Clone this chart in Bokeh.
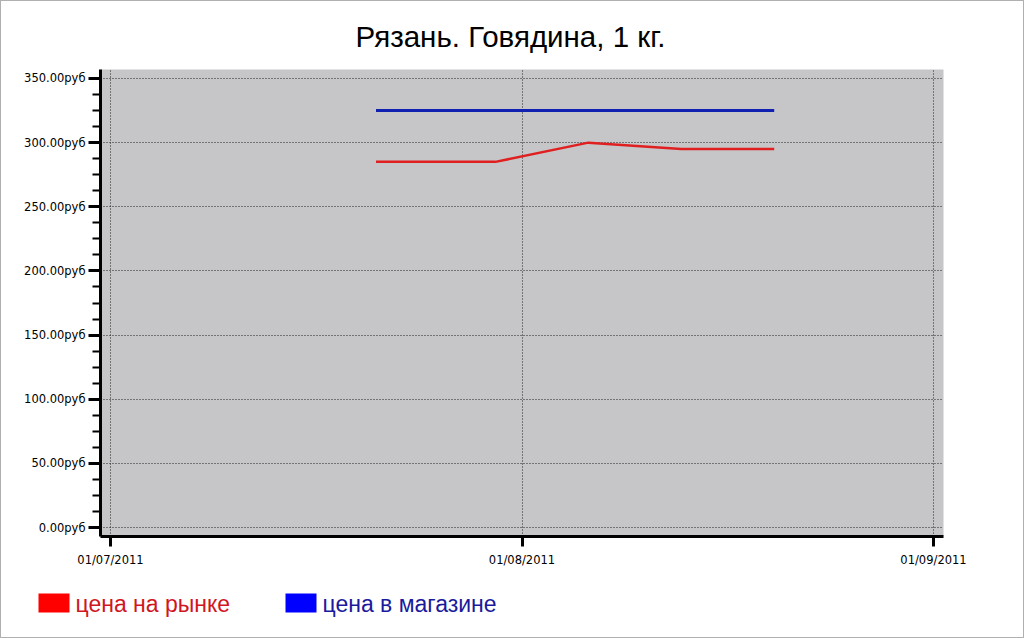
from datetime import datetime, timedelta
from bokeh.plotting import figure
from bokeh.layouts import column
from bokeh.models import (Range1d, SingleIntervalTicker, FixedTicker, PrintfTickFormatter,
                          DatetimeTickFormatter)
from bokeh.core.properties import value
from bokeh.embed import file_html
from bokeh.resources import INLINE

# ---- data ----
title_text = "Рязань. Говядина, 1 кг."
dates = ["2011-07-21", "2011-07-30", "2011-08-06", "2011-08-13", "2011-08-20"]
market_price = [285, 285, 300, 295, 295]
store_price = [325, 325, 325, 325, 325]
series_names = ["цена на рынке", "цена в магазине"]
series_colors = ["#E02020", "#1020B0"]
swatch_colors = ["#FF0000", "#0000FF"]
legend_text_colors = ["#D0161E", "#1A1A9C"]
x_tick_dates = ["2011-07-01", "2011-08-01", "2011-09-01"]

xd = [datetime.strptime(d, "%Y-%m-%d") for d in dates]
xt = [datetime.strptime(d, "%Y-%m-%d") for d in x_tick_dates]
ms = lambda d: (d - datetime(1970, 1, 1)).total_seconds() * 1000.0

W = 1022
LEG_H = 62
MAIN_H = 636 - LEG_H

pad = timedelta(days=0.753)
p = figure(width=W, height=MAIN_H, x_axis_type="datetime",
           x_range=Range1d(start=xt[0] - pad, end=xt[-1] + pad),
           y_range=Range1d(start=-7, end=357),
           output_backend="svg", toolbar_location=None,
           min_border_left=99, min_border_right=W - 942, min_border_top=68,
           min_border_bottom=MAIN_H - 535)

p.background_fill_color = "#C6C5C8"
p.border_fill_color = "white"
p.outline_line_color = None

p.title.text = title_text
p.title.text_font = "Liberation Sans"
p.title.text_font_size = "29.5px"
p.title.text_font_style = "normal"
p.title.text_color = "black"
p.title.align = "left"
p.title.offset = 255
p.title.standoff = 33

# y axis
yax = p.yaxis[0]
yax.ticker = SingleIntervalTicker(interval=50, num_minor_ticks=4)
yax.formatter = PrintfTickFormatter(format="%.2fруб")
yax.axis_line_width = 3
yax.axis_line_color = "black"
yax.major_tick_line_width = 3
yax.major_tick_line_color = "black"
yax.major_tick_out = 12
yax.major_tick_in = 0
yax.minor_tick_line_width = 2
yax.minor_tick_line_color = "black"
yax.minor_tick_out = 8
yax.minor_tick_in = 0
yax.major_label_text_font = "DejaVu Sans"
yax.major_label_text_font_size = "11.5px"
yax.major_label_text_color = "black"
yax.major_label_standoff = 3

# x axis
xax = p.xaxis[0]
xax.ticker = FixedTicker(ticks=[ms(d) for d in xt])
fmt = "%d/%m/%Y"
xax.formatter = DatetimeTickFormatter(days=fmt, months=fmt, years=fmt, hours=fmt,
                                      minutes=fmt, seconds=fmt, milliseconds=fmt,
                                      microseconds=fmt, hourmin=fmt, minsec=fmt)
xax.axis_line_width = 3
xax.axis_line_color = "black"
xax.major_tick_line_width = 3
xax.major_tick_line_color = "black"
xax.major_tick_out = 10
xax.major_tick_in = 0
xax.minor_tick_line_color = None
xax.major_label_text_font = "DejaVu Sans"
xax.major_label_text_font_size = "11.5px"
xax.major_label_text_color = "black"
xax.major_label_standoff = 6

# grids
for g in (p.xgrid[0], p.ygrid[0]):
    g.grid_line_color = "#222222"
    g.grid_line_dash = "1 2"
    g.grid_line_width = 1

# lines
p.line(xd, store_price, line_color=series_colors[1], line_width=3)
p.line(xd, market_price, line_color=series_colors[0], line_width=2.5)

# ---- legend strip (pixel coordinates, y downward) ----
leg = figure(width=W, height=LEG_H, x_range=Range1d(0, W), y_range=Range1d(LEG_H, 0),
             output_backend="svg", toolbar_location=None,
             min_border=0, min_border_left=0, min_border_right=0,
             min_border_top=0, min_border_bottom=0)
leg.frame_align = False
leg.axis.visible = False
leg.grid.visible = False
leg.outline_line_color = None
leg.background_fill_color = "white"
leg.border_fill_color = "white"

swatch_left = [37, 284]
sw_w, sw_h, sw_top = 31, 19, 18
leg.quad(left=swatch_left, right=[s + sw_w for s in swatch_left],
         top=[sw_top] * 2, bottom=[sw_top + sw_h] * 2,
         fill_color=swatch_colors, line_alpha=0)
leg.text(x=[s + sw_w + 6 for s in swatch_left], y=[sw_top + sw_h / 2 + 1] * 2,
         text=series_names, text_color=legend_text_colors,
         text_font=value("Liberation Sans"), text_font_size="23px",
         text_baseline="middle", text_align="left")

layout = column(p, leg, spacing=0, styles={"border": "1px solid #B0B0B0"})

open("out.html", "w").write(file_html(layout, INLINE))
